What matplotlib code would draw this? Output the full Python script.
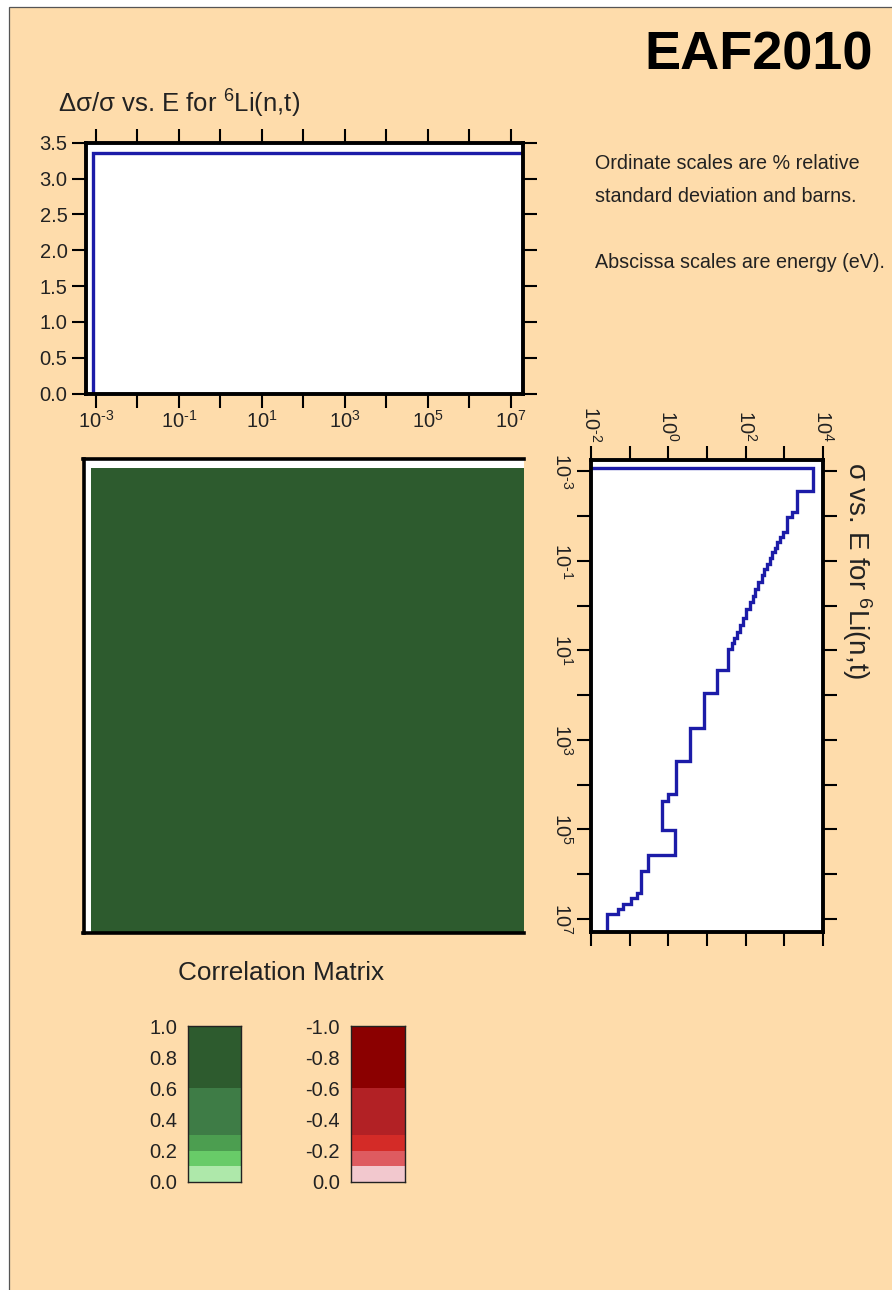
import numpy as np
import matplotlib
matplotlib.use("Agg")
import matplotlib.pyplot as plt
from matplotlib.colors import ListedColormap, BoundaryNorm
from matplotlib.patches import Rectangle
from matplotlib.ticker import NullLocator

plt.rcParams["font.family"] = ["Liberation Sans", "DejaVu Sans"]
plt.rcParams["mathtext.fontset"] = "custom"
plt.rcParams["mathtext.rm"] = "Liberation Sans"
plt.rcParams["mathtext.it"] = "Liberation Sans:italic"
plt.rcParams["mathtext.bf"] = "Liberation Sans:bold"
plt.rcParams["mathtext.default"] = "regular"

# ── data ──────────────────────────────────────────────────────────────────────
E_MIN, E_MAX = 5.6e-4, 2.0e7

# relative standard deviation (%) vs energy
unc_edges = [8.5e-4, 2.0e7]
unc_vals = [3.35]

# cross section (barns) vs energy, log10 values of group edges and sigma
log_e_edges = [-3.07, -2.55, -2.09, -1.97, -1.65, -1.53, -1.41, -1.29, -1.19,
               -1.06, -0.93, -0.81, -0.69, -0.53, -0.37, -0.21, -0.08, 0.08,
               0.28, 0.44, 0.60, 0.72, 0.84, 0.96, 1.44, 1.96, 2.73, 3.47,
               4.21, 4.37, 5.02, 5.58, 5.94, 6.42, 6.54, 6.66, 6.78, 6.90, 7.30]
log_sigma = [3.74, 3.32, 3.21, 3.06, 2.96, 2.89, 2.82, 2.76, 2.69, 2.62,
             2.55, 2.48, 2.41, 2.33, 2.24, 2.18, 2.10, 2.01, 1.94, 1.85,
             1.78, 1.71, 1.64, 1.55, 1.26, 0.93, 0.57, 0.20, -0.01, -0.16,
             0.16, -0.53, -0.70, -0.82, -0.97, -1.17, -1.30, -1.58]

# correlation matrix (single block, fully correlated)
corr_edges = [8.5e-4, 2.0e7]
corr_vals = [[1.0]]

# colour scale
pos_levels = [0.0, 0.1, 0.2, 0.3, 0.6, 1.0]
pos_colors = ["#aee8aa", "#68cb68", "#4c9e50", "#3e7c46", "#2d5b2e"]
neg_levels = [-1.0, -0.6, -0.3, -0.2, -0.1, 0.0]
neg_colors = ["#8b0000", "#b22125", "#d42b27", "#de5b60", "#f2c8ce"]
pos_labels = ["0.0", "0.2", "0.4", "0.6", "0.8", "1.0"]
neg_labels = ["0.0", "-0.2", "-0.4", "-0.6", "-0.8", "-1.0"]
cbar_ticks = [0.0, 0.2, 0.4, 0.6, 0.8, 1.0]

PEACH = "#fedcab"
BLUE = "#1c1ca8"
TXT = "#222222"

W, H = 892, 1290
fig = plt.figure(figsize=(W / 100, H / 100), dpi=100, facecolor="white")

# page frame
fig.add_artist(Rectangle((8.5 / W, -0.05), 1.2, 1 - 6.5 / H + 0.05,
                         transform=fig.transFigure, fc=PEACH, ec="#555555",
                         lw=0.9, zorder=-10))


def px_axes(l, t, r, b):
    return fig.add_axes([l / W, 1 - b / H, (r - l) / W, (b - t) / H])


def frame(ax, lw=2.8):
    for s in ax.spines.values():
        s.set_linewidth(lw)
        s.set_color("black")
    ax.tick_params(which="major", direction="out", length=10, width=1.5,
                   colors="black", labelcolor=TXT, labelsize=14.5, pad=3)
    ax.xaxis.set_minor_locator(NullLocator())
    ax.yaxis.set_minor_locator(NullLocator())


def dec_labels(exps, odd=True):
    return [f"$10^{{\\text{{{e}}}}}$" if (e % 2 == 1) == odd else ""
            for e in exps]


# ── top panel: uncertainty ────────────────────────────────────────────────────
ax1 = px_axes(85.5, 142.7, 523, 393.5)
ax1.set_facecolor("white")
ax1.set_xscale("log")
xs = np.repeat(unc_edges, 2)
ys = np.concatenate([[0], np.repeat(unc_vals, 2), [0]])
ax1.plot(xs, ys, color=BLUE, lw=2.4, solid_joinstyle="miter")
ax1.set_xlim(E_MIN, E_MAX)
ax1.set_ylim(0, 3.5)
frame(ax1)
exps = np.arange(-3, 8)
ax1.set_xticks(10.0 ** exps)
ax1.set_xticklabels(dec_labels(exps, odd=True))
ax1.set_yticks(np.arange(0, 3.51, 0.5))
ax1.set_yticklabels([f"{v:.1f}" for v in np.arange(0, 3.51, 0.5)])
ax1.tick_params(top=True, right=True, labeltop=False, labelright=False)
ax1.tick_params(axis="x", pad=2)
ax1.xaxis.set_minor_locator(NullLocator())
fig.text(58 / W, 1 - 113 / H, r"Δσ/σ vs. E for $^{6}$Li(n,t)", fontsize=18.5,
         color=TXT, ha="left", va="baseline")

# ── right panel: cross section ───────────────────────────────────────────────
ax2 = px_axes(591, 460, 823, 932.3)
ax2.set_facecolor("white")
ax2.set_xscale("log")
ax2.set_yscale("log")
e_edges = 10.0 ** np.array(log_e_edges)
sig = 10.0 ** np.array(log_sigma)
xs = np.concatenate([[1e-3], np.repeat(sig, 2), [1e-3]])
ys = np.repeat(e_edges, 2)
ax2.plot(xs, ys, color=BLUE, lw=2.4, solid_joinstyle="miter")
ax2.set_xlim(1e-2, 1e4)
ax2.set_ylim(E_MAX, E_MIN)
frame(ax2)
sexps = np.arange(-2, 5)
ax2.set_xticks(10.0 ** sexps)
ax2.set_xticklabels(dec_labels(sexps, odd=False), rotation=-90)
ax2.set_yticks(10.0 ** exps)
ax2.set_yticklabels(dec_labels(exps, odd=True), rotation=-90, va="center")
ax2.tick_params(top=True, bottom=True, right=True, labeltop=True,
                labelbottom=False, labelright=False)
ax2.xaxis.set_minor_locator(NullLocator())
ax2.yaxis.set_minor_locator(NullLocator())
fig.text(857 / W, 1 - 462 / H, r"σ vs. E for $^{6}$Li(n,t)", fontsize=20,
         color=TXT, rotation=-90, ha="center", va="top")

# ── correlation matrix ───────────────────────────────────────────────────────
pos_cmap = ListedColormap(pos_colors)
pos_norm = BoundaryNorm(pos_levels, pos_cmap.N)
ax3 = px_axes(83.5, 459.5, 523.5, 933.3)
ax3.set_facecolor("white")
ax3.set_xscale("log")
ax3.set_yscale("log")
ax3.pcolormesh(corr_edges, corr_edges, np.array(corr_vals), cmap=pos_cmap,
               norm=pos_norm)
ax3.set_xlim(E_MIN, E_MAX)
ax3.set_ylim(E_MAX, E_MIN)
ax3.set_xticks([])
ax3.set_yticks([])
ax3.xaxis.set_minor_locator(NullLocator())
ax3.yaxis.set_minor_locator(NullLocator())
for k, s in ax3.spines.items():
    s.set_linewidth(2.6)
ax3.spines["right"].set_visible(False)
fig.text(281 / W, 1 - 980 / H, "Correlation Matrix", fontsize=18.8,
         color=TXT, ha="center", va="baseline")

# ── colour scales ────────────────────────────────────────────────────────────
neg_cmap = ListedColormap(neg_colors)
neg_norm = BoundaryNorm(neg_levels, neg_cmap.N)

ax4 = px_axes(188.3, 1026, 240.7, 1181.7)
mids = np.array([[(a + b) / 2] for a, b in zip(pos_levels[:-1], pos_levels[1:])])
ax4.pcolormesh([0, 1], pos_levels, mids, cmap=pos_cmap, norm=pos_norm)
ax4.set_ylim(0, 1)
ax4.set_yticks(cbar_ticks)
ax4.set_yticklabels(pos_labels)

ax5 = px_axes(351, 1026, 405, 1181.7)
mids = np.array([[(a + b) / 2] for a, b in zip(neg_levels[:-1], neg_levels[1:])])
ax5.pcolormesh([0, 1], neg_levels, mids, cmap=neg_cmap, norm=neg_norm)
ax5.set_ylim(0, -1)
ax5.set_yticks([-v for v in cbar_ticks])
ax5.set_yticklabels(neg_labels)

for ax in (ax4, ax5):
    ax.set_xlim(0, 1)
    ax.set_xticks([])
    ax.tick_params(axis="y", length=0, pad=8, labelsize=14.5, labelcolor=TXT)
    for s in ax.spines.values():
        s.set_linewidth(1.0)
        s.set_color("#222222")

# ── annotation text ──────────────────────────────────────────────────────────
fig.text(873 / W, 1 - 70 / H, "EAF2010", fontsize=39, fontweight="bold",
         ha="right", va="baseline", color="black")
info = [("Ordinate scales are % relative", 169.3),
        ("standard deviation and barns.", 201.7),
        ("Abscissa scales are energy (eV).", 268.3)]
for line, yb in info:
    fig.text(595 / W, 1 - yb / H, line, fontsize=14.2, color=TXT,
             ha="left", va="baseline")

fig.savefig("out.png", dpi=100, facecolor=fig.get_facecolor())
